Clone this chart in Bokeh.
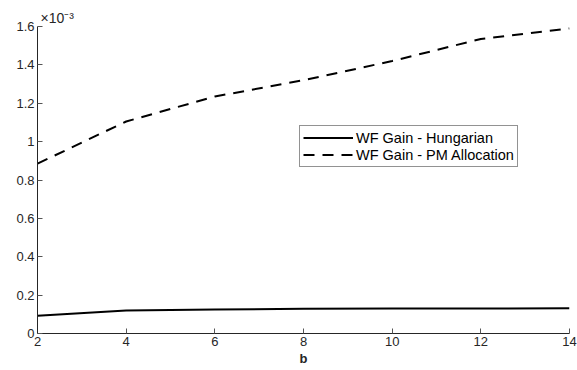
from bokeh.plotting import figure
from bokeh.models import Range1d, Legend, LegendItem, FixedTicker, Title
from bokeh.embed import file_html
from bokeh.resources import INLINE

b_values = [2, 4, 6, 8, 10, 12, 14]
hungarian = [0.092, 0.120, 0.125, 0.129, 0.130, 0.130, 0.131]  # x10^-3
pm_alloc = [0.885, 1.105, 1.235, 1.320, 1.420, 1.535, 1.590]  # x10^-3
x_ticks = [2, 4, 6, 8, 10, 12, 14]
y_ticks = [0, 0.2, 0.4, 0.6, 0.8, 1.0, 1.2, 1.4, 1.6]
font = "Liberation Sans"

p = figure(width=577, height=370, output_backend="svg", toolbar_location=None,
           x_range=Range1d(2, 14), y_range=Range1d(0, 1.6),
           min_border_left=37, min_border_right=8, min_border_top=26, min_border_bottom=37,
           title=Title(text="×10⁻³", align="left", offset=3, text_font=font,
                       text_font_size="14px", text_font_style="normal",
                       text_color="#262626", standoff=1))
p.outline_line_color = None
p.grid.visible = False
p.background_fill_color = "white"

for ax in (p.xaxis[0], p.yaxis[0]):
    ax.axis_line_color = "#262626"
    ax.major_tick_line_color = "#555555"
    ax.minor_tick_line_color = None
    ax.major_tick_in = 5
    ax.major_tick_out = 0
    ax.major_label_text_font = font
    ax.major_label_text_font_size = "13px"
    ax.major_label_text_color = "#262626"
    ax.major_label_standoff = 3

p.xaxis.ticker = FixedTicker(ticks=x_ticks)
p.yaxis.ticker = FixedTicker(ticks=y_ticks)
p.yaxis.major_label_overrides = {0: "0", 1.0: "1"}
p.xaxis.axis_label = "b"
p.xaxis.axis_label_text_font = font
p.xaxis.axis_label_text_font_style = "bold"
p.xaxis.axis_label_text_font_size = "13px"
p.xaxis.axis_label_text_color = "#262626"
p.xaxis.axis_label_standoff = 2

r1 = p.line(b_values, hungarian, line_color="black", line_width=2)
r2 = p.line(b_values, pm_alloc, line_color="black", line_width=2, line_dash="11 8")

legend = Legend(items=[LegendItem(label="WF Gain - Hungarian", renderers=[r1]),
                       LegendItem(label="WF Gain - PM Allocation", renderers=[r2])],
                location=(262, 166))
legend.border_line_color = "#262626"
legend.border_line_width = 1
legend.label_text_font = font
legend.label_text_font_size = "14.5px"
legend.label_text_color = "black"
legend.glyph_width = 50
legend.glyph_height = 17
legend.label_height = 17
legend.spacing = 0
legend.padding = 3
legend.margin = 0
legend.label_standoff = 3
p.add_layout(legend)

open("out.html", "w").write(file_html(p, INLINE))
